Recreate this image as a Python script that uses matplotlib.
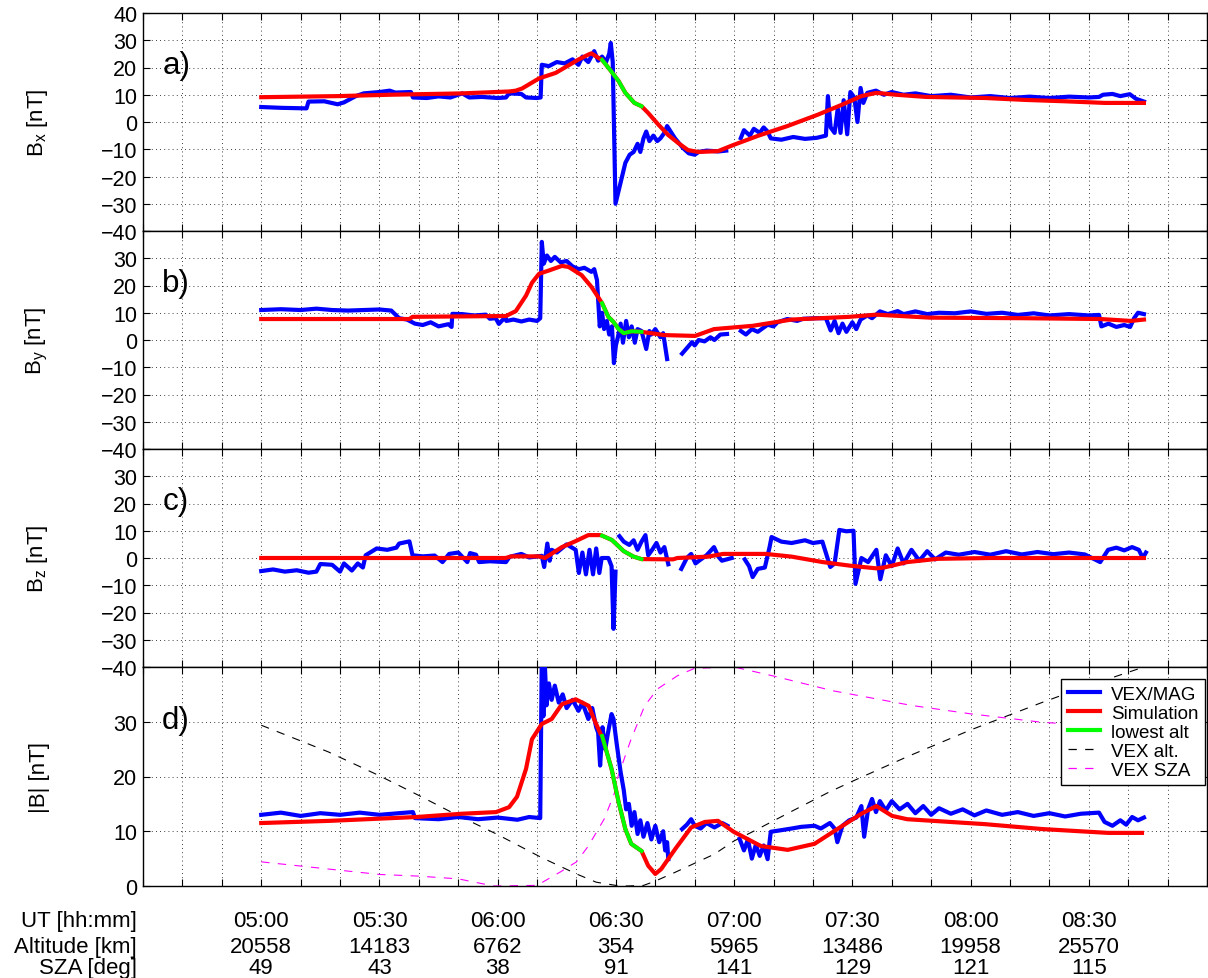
import numpy as np
import matplotlib
matplotlib.use('Agg')
import matplotlib.pyplot as plt
from matplotlib.lines import Line2D
from matplotlib.transforms import blended_transform_factory

plt.rcParams['font.family'] = ['Liberation Sans', 'DejaVu Sans']
plt.rcParams['mathtext.fontset'] = 'custom'
plt.rcParams['mathtext.rm'] = 'Liberation Sans'
plt.rcParams['mathtext.it'] = 'Liberation Sans:italic'
plt.rcParams['lines.scale_dashes'] = False

nan = np.nan

# time in minutes after 00:00 UT
# VEX/MAG measurements (t, nT)
bx_obs = [(300, 5.5), (305, 5.2), (311.5, 5.0), (312, 7.5), (316, 7.6), (319.4, 6.5), (321, 7.2),
          (324, 9.5), (326, 10.5), (330, 11), (332.6, 11.5), (334, 10.8), (338, 11), (338.5, 9),
          (342, 8.8), (345, 9.4), (348, 9), (351, 10.5), (352.8, 9), (356, 9.2), (360, 8.8),
          (362.1, 9), (362.9, 10.5), (366, 10.3), (367.2, 9), (370, 8.8), (370.9, 9), (371.2, 21),
          (373, 20.5), (375, 22), (377, 21.5), (379, 23), (380.5, 21), (381.5, 24), (383, 22),
          (384.5, 26), (385.5, 22.5), (386.5, 24), (387.5, 22), (388.3, 25), (388.7, 29),
          (389.2, 22), (389.9, -30), (390.9, -24), (392.4, -15), (393.5, -12), (394.5, -11),
          (395.5, -8), (396.2, -11), (397.0, -6), (397.7, -3.5), (398.5, -7), (399.5, -5),
          (400.5, -7), (401.3, -6), (402.3, -4), (403.0, -1.5), (405, -6), (407, -9.5),
          (408.5, -11.5), (410, -12), (411, -11), (413, -10.5), (416, -10.8), (418, -10.5),
          (418.4, nan), (421.7, -5.9), (422.5, -3), (424, -5), (425, -2.5), (426.5, -4),
          (427.5, -2), (428.5, -3.5), (429.3, -6), (432, -6.5), (435, -5.5), (438, -6.2),
          (441, -5.8), (443.3, -5), (443.8, 9.5), (444.5, -2), (445.5, -4), (446.3, 5), (447, -4),
          (447.8, 8), (448.7, -4.5), (449.5, 11), (450.5, 9), (451.3, 0), (452.1, 12.5),
          (452.8, 7), (453.8, 10.7), (456, 11.5), (458, 10), (460, 11), (463, 10), (466, 10.5),
          (470, 9.5), (475, 10), (480, 9), (485, 9.5), (490, 8.8), (495, 9.3), (500, 8.8),
          (505, 9.3), (510, 9), (512.6, 9.2), (513.6, 10), (516, 10.3), (518, 9.5), (520.4, 10.2),
          (522, 8.5), (523, 8), (524, 7.5)]

by_obs = [(300, 11), (305, 11.3), (310, 11), (314, 11.5), (318, 11), (322, 10.8), (326, 11),
          (330, 11.2), (333, 10.8), (335, 8), (337, 7.5), (339, 6), (341, 5.5), (343, 6.5),
          (345, 5), (347.5, 5.8), (348.3, 4.8), (348.5, 9.6), (351, 9.5), (354, 9), (357, 9.3),
          (358, 7.8), (359.5, 8), (360.3, 5.9), (362, 8.5), (362.2, 7), (364, 7.5), (366, 6.8),
          (368, 7.5), (370, 7), (370.8, 8), (371.2, 36), (371.7, 28), (372.5, 31), (373.5, 29),
          (374.5, 30.5), (376, 28.5), (377.5, 29), (379, 27), (380.6, 26), (382, 26.5),
          (383.8, 25), (384.5, 26), (385.2, 22), (385.9, 5), (386.5, 10), (387, 4), (387.7, 7),
          (388.3, 2), (389, 5), (389.5, -8.5), (390, -2), (390.5, 1), (391.2, 6), (391.8, -1),
          (392.6, 7), (393.3, 1), (394, 5), (394.8, -1), (395.5, 4), (396.5, 3.3), (397.7, -3.3),
          (398.5, 3.3), (399, 2), (400, 4), (401.3, 1), (402, 2.5), (403, -7), (403.3, nan),
          (406.8, -5), (408, -3), (409.3, -0.8), (410, -2), (411, 0), (412.5, -0.5), (414, 1),
          (415, 0), (416.5, 2), (418.2, 2.2), (418.4, nan), (421.7, 3.3), (423, 2), (424.5, 4),
          (426, 3), (428.5, 5.6), (430, 5), (431, 6.5), (433.5, 7.7), (436, 7), (437.5, 7.8),
          (441, 8), (443.3, 8), (444.5, 3.5), (445.5, 7), (446.5, 2.5), (447.5, 6), (448.5, 3),
          (450, 6.5), (451, 4), (452.1, 7.5), (453.8, 9), (455, 8), (457, 10.5), (459, 9.5),
          (461.5, 10.6), (463, 9.5), (466, 10.5), (469, 9.5), (472, 10), (476, 9.8), (480, 10.5),
          (484, 9.6), (488, 10), (492, 9.2), (496, 9.8), (500, 9), (505, 9.5), (510, 9),
          (512.6, 9.2), (513.2, 5), (515, 6), (517, 4.8), (519, 5.5), (520.5, 4.8), (521.5, 8),
          (522.5, 10), (524, 9.5)]

bz_obs = [(300, -4.8), (303, -4.2), (306, -5), (309, -4.5), (312, -5.4), (314, -5), (315, -2.2),
          (318, -2.5), (320, -5), (321, -2), (323, -4.6), (324.5, -2), (325.8, -3.5), (326.5, 1),
          (329.3, 3.5), (332, 3), (334.3, 3.8), (335, 5.3), (337.6, 6.1), (338.4, 1), (341, 0.6),
          (344, 0.9), (346, -1.5), (347.7, 1.5), (350, 2), (352.3, -1.5), (353, 1.8), (354.5, 1.2),
          (355.3, -1.5), (358, -1.2), (362.1, -1.5), (363, 0.4), (366, 1.5), (368, 0.2),
          (371.2, 0.8), (371.8, -3.3), (372.6, 5.3), (373.2, -1), (373.7, 3), (375, 2),
          (377.5, 5), (379.8, 3), (380.6, -5.5), (381.5, 2), (382.4, -6), (383.3, 3), (384.2, -6),
          (385, 3.5), (385.8, -5.5), (386.4, 0), (388.1, 0), (388.9, -3), (389.4, -26),
          (389.9, -5), (390.4, nan), (390.9, 8), (392, 6), (393.4, 4.8), (394.5, 6.5),
          (395.5, 3), (396.5, 6), (397.5, 8.4), (398.2, 1), (399.2, 3), (400.3, 5.5), (401.3, 2),
          (402.3, 4), (403.3, -2.3), (403.5, nan), (406.6, -4), (408, 0), (409.1, 1.5),
          (410.2, -2), (411.1, -1), (413, 1), (414.9, 4), (416, 0.5), (416.9, -1), (419.4, 0),
          (419.6, nan), (422.7, -0.5), (423.8, -3), (424.7, -7), (426, -4), (427.8, -3.5),
          (429, 4), (429.5, 7.7), (432, 6), (434.6, 5.5), (438, 6.5), (440, 5.5), (442.4, 6),
          (444.4, -3.3), (445.5, -2), (446.7, 10.3), (448.5, 9.8), (450.3, 10), (450.8, -9.5),
          (452.3, 0), (454, -1.5), (456.1, 3), (457.1, -7.8), (458.5, 1), (460, -3), (461.5, 3.5),
          (463, -2), (465, 3), (467, -1), (469, 2.5), (471, -0.5), (473.7, 2), (477, 1.2),
          (481, 2.2), (485, 1.2), (489, 2.5), (493, 1.3), (497, 2.2), (501, 1.4), (505, 2),
          (509, 1.3), (512.9, -1.5), (514.9, 3), (517, 3.8), (519, 2.8), (521, 4), (522.7, 3),
          (523.7, 0), (524.5, 2)]

bt_obs = [(300, 13), (305, 13.4), (310, 12.8), (315, 13.3), (320, 13), (325, 13.4), (330, 13),
          (335, 13.3), (338.5, 13.5), (339, 12.4), (345, 12.2), (350, 12.6), (355, 12.2),
          (360, 12.5), (365, 12.1), (368, 12.6), (370.8, 12.4), (371.2, 42), (371.6, 31),
          (372, 40), (372.4, 33), (373, 37), (373.7, 34), (374.5, 36.6), (375.5, 33.5),
          (376.5, 35), (377.5, 32.5), (379, 34), (380.5, 32), (381.5, 33.5), (383, 30.5),
          (384, 32.5), (385, 29), (385.5, 28), (386, 22), (386.6, 29), (387.3, 25), (388, 28),
          (388.9, 31.4), (389.4, 30.5), (390.2, 26), (391.2, 20.8), (392, 17.5), (392.6, 14),
          (393.3, 15), (394, 11), (394.7, 13.5), (395.5, 9.5), (396.2, 12), (397, 9),
          (398, 11.5), (399, 8.5), (400, 11), (401, 8), (402, 10), (402.5, 6.5), (403, 8),
          (403.3, 4.9), (403.5, nan), (406.8, 10.4), (408, 11.2), (409.1, 12.2), (410, 11),
          (411.5, 10.5), (413, 11.5), (415, 10.7), (417, 11.5), (418.3, 11), (418.5, nan),
          (421.4, 8.6), (422.5, 6.5), (423.5, 8.5), (424.5, 5), (425.5, 7.5), (426.5, 5.5),
          (427.5, 7.4), (428.5, 4.9), (429.3, 9.9), (432, 10.2), (434.6, 10.5), (437, 10.8),
          (440.4, 11), (442, 10.5), (444.3, 11.5), (445.5, 10.5), (446.2, 8), (447.5, 11),
          (449.2, 12), (451, 12.5), (452.3, 14.6), (453, 9), (454, 14), (455, 15.9), (456, 13.5),
          (457, 15.5), (458.5, 13.8), (460, 15.5), (462, 14), (464, 15), (466, 13.3), (468, 14.6),
          (470, 13), (472, 14.2), (475, 13.2), (478, 14), (481, 12.9), (484, 13.8), (488, 13),
          (492, 13.5), (496, 12.8), (500, 13.3), (504, 12.7), (508, 13.2), (512.6, 13.4),
          (514, 11.7), (516, 11), (518, 12), (519.5, 11.2), (521, 12.6), (522.5, 12), (524, 12.5)]

# Simulation (t, nT)
bx_sim = [(300, 9.1), (319.4, 9.5), (332.6, 10), (351, 10.5), (362.9, 11.2), (364.6, 11.5),
          (366.2, 12.3), (370.5, 16), (374.7, 18), (380.6, 23), (383.1, 24.8), (383.8, 25.2),
          (385.6, 23.5), (386.5, 22.8), (388.6, 19), (390.7, 15), (392.4, 10.7), (394.7, 7),
          (396.5, 5.8), (398.2, 3.3), (400.8, -1), (403.3, -4.8), (405.8, -7.7), (408.3, -10.3),
          (410.9, -11), (415.9, -10.7), (419.7, -8.5), (426, -5.1), (433.5, -1.5), (441.1, 2.6),
          (447.3, 6.3), (452.3, 9.5), (456.1, 10.7), (461.1, 10), (468.7, 9.2), (483.8, 8.8),
          (493.9, 8.1), (504, 7.6), (514.1, 7), (524, 7)]

by_sim = [(300, 7.7), (337.6, 7.7), (338.4, 8.5), (362.1, 8.8), (364.6, 10.6), (367.2, 16.3),
          (368.7, 21), (370.5, 24.3), (373, 25.5), (376.3, 27.2), (378, 26.8), (381.3, 23.8),
          (383.8, 19.5), (386.5, 13.5), (388.1, 8.5), (389.4, 6.6), (390.7, 4), (392, 2.5),
          (394, 3.2), (396.5, 3.0), (402.3, 1.8), (410.1, 1.5), (414.9, 4), (424.7, 5.2),
          (434.6, 7.5), (449.2, 8.5), (456.1, 9.3), (469.7, 8.2), (493.2, 8), (512.9, 7.7),
          (520.7, 7), (524, 7.5)]

bz_sim = [(300, 0), (362, 0), (363.5, 0.6), (370.5, 0.6), (372, 0), (376.3, 4), (379.8, 6.2),
          (383, 8.4), (386, 8.4), (386.5, 8.2), (389, 6.6), (392, 2.5), (394.5, 0.5),
          (396.5, -0.4), (404.5, -0.5), (405.6, 0), (413.4, 0.5), (417.2, 1.5), (428, 1.5),
          (434.6, 0.5), (442.5, -1.5), (449.3, -2.8), (456.1, -3.8), (458, -3.5), (463.9, -1.5),
          (471.7, -0.3), (485, 0), (524, 0)]

bt_sim = [(300, 11.5), (317.4, 11.9), (339.4, 12.6), (351, 13.2), (359.6, 13.5), (362.9, 14.4),
          (364.9, 16.3), (367.2, 21.4), (368.7, 26.8), (371.2, 29.6), (373.7, 30.5),
          (376.3, 33.2), (379.8, 34.1), (383.1, 32.9), (384.8, 29.9), (386.1, 27.8),
          (386.5, 27.4), (388.9, 21.4), (390.7, 15.3), (392.4, 10.4), (393.9, 7.7), (396.5, 6.4),
          (398.2, 3.7), (400, 2.2), (401.5, 3.1), (405.1, 6.8), (409.1, 10.7), (412.6, 11.7),
          (415.9, 11.9), (419.9, 9.9), (426.8, 7.3), (433.6, 6.6), (440.4, 7.7), (446.2, 10.4),
          (452.3, 13.2), (456.1, 14.6), (460.1, 12.8), (463.9, 12.2), (483.6, 11.3),
          (498.2, 10.4), (514.9, 9.7), (523.5, 9.7)]

lowest_alt_window = (386.5, 396.5)

# spacecraft altitude [km] and solar zenith angle [deg]
alt_t = [300, 317, 330, 340, 349, 360, 371, 380, 385, 390, 393, 397, 400, 405, 415, 420, 425,
         435, 444, 450, 464, 480, 498, 510, 524]
alt_km = [20558, 17200, 14183, 11700, 9400, 6762, 3900, 1800, 760, 354, 280, 350, 900, 2000,
          4300, 5965, 7200, 9800, 12100, 13486, 16600, 19958, 23400, 25570, 27900]
sza_t = [300, 317, 330, 340, 350, 359, 370, 376, 380, 383, 387, 389.7, 390.5, 393.7, 397.3,
         400.6, 405.6, 410, 420, 430, 445, 465, 480, 498, 510, 524]
sza_deg = [49, 45.6, 43, 42.2, 40.9, 37.5, 37.8, 44.3, 49, 56.5, 69.3, 82, 89.4, 106.6, 123.3,
           131.4, 137.6, 141.2, 141.8, 137.5, 130.5, 123.5, 119.5, 115.5, 114, 112]

# bottom table
table_t = [300, 330, 360, 390, 420, 450, 480, 510]
ut_labels = ['05:00', '05:30', '06:00', '06:30', '07:00', '07:30', '08:00', '08:30']
alt_labels = ['20558', '14183', '6762', '354', '5965', '13486', '19958', '25570']
sza_labels = ['49', '43', '38', '91', '141', '129', '121', '115']

panels = [('a)', r'$\mathregular{B_x}$ [nT]', bx_obs, bx_sim, (-40, 40)),
          ('b)', r'$\mathregular{B_y}$ [nT]', by_obs, by_sim, (-40, 40)),
          ('c)', r'$\mathregular{B_z}$ [nT]', bz_obs, bz_sim, (-40, 40)),
          ('d)', '|B| [nT]', bt_obs, bt_sim, (0, 40))]

W, H = 1208, 979
fig = plt.figure(figsize=(W / 100, H / 100), dpi=100)
x0, x1 = 143, 1207
tops = [14, 232, 450, 668]
bots = [232, 450, 668, 887]

blue, red, green = (0, 0, 1), (1, 0, 0), (0, 1, 0)


def minus(v):
    return str(v).replace('-', '\u2212')


axes = []
for i, (tag, ylab, obs, sim, ylim) in enumerate(panels):
    ax = fig.add_axes([x0 / W, 1 - bots[i] / H, (x1 - x0) / W, (bots[i] - tops[i]) / H])
    axes.append(ax)
    ot, ov = np.array(obs).T
    st, sv = np.array(sim).T
    ax.plot(ot, ov, color=blue, lw=3.0, zorder=3, solid_joinstyle='round')
    ax.plot(st, sv, color=red, lw=3.0, zorder=4)
    m = (st >= lowest_alt_window[0]) & (st <= lowest_alt_window[1])
    ax.plot(st[m], sv[m], color=green, lw=2.8, zorder=5)

    ax.set_xlim(270, 538.6)
    ax.set_ylim(*ylim)
    ax.set_xticks(np.arange(270, 541, 10))
    yt = np.arange(ylim[0], ylim[1] + 1, 10)
    ylabels = [minus(v) for v in yt]
    if i > 0:
        ylabels[-1] = ''
    ax.set_yticks(yt, ylabels)
    ax.tick_params(direction='in', length=5, width=0.8, top=True, right=True,
                   labelbottom=False, labelsize=15.5, pad=4, colors='k')
    ax.grid(True, color='k', linestyle=(0, (0.6, 2.4)), linewidth=0.6)
    ax.set_axisbelow(True)
    for sp in ax.spines.values():
        sp.set_linewidth(1.0)
    ax.set_ylabel(ylab, fontsize=16)
    ax.yaxis.set_label_coords(-0.087, 0.5)
    ax.text(0.018, 0.76, tag, transform=ax.transAxes, fontsize=22.5, va='center', ha='left')

# orbit context in panel d, scaled to 0..40
axd = axes[3]
alt_arr = np.array(alt_km, dtype=float)
sza_arr = np.array(sza_deg, dtype=float)
alt_s = (alt_arr - alt_arr.min()) / (alt_arr.max() - alt_arr.min()) * 40
sza_s = (sza_arr - sza_arr.min()) / (sza_arr.max() - sza_arr.min()) * 40
axd.plot(alt_t, alt_s, color='k', lw=0.8, dashes=(6, 6), zorder=2)
axd.plot(sza_t, sza_s, color=(1, 0, 1), lw=0.8, dashes=(6, 6), zorder=2)

handles = [Line2D([], [], color=blue, lw=3),
           Line2D([], [], color=red, lw=3),
           Line2D([], [], color=green, lw=3),
           Line2D([], [], color='k', lw=0.9, dashes=(6, 6)),
           Line2D([], [], color=(1, 0, 1), lw=0.9, dashes=(6, 6))]
labels = ['VEX/MAG', 'Simulation', 'lowest alt', 'VEX alt.', 'VEX SZA']
leg = axd.legend(handles, labels, loc='upper right',
                 bbox_to_anchor=(1 - 2 / (x1 - x0), (887 - 680) / 219),
                 fontsize=13.5, frameon=True, fancybox=False, edgecolor='k', framealpha=1,
                 borderpad=0.35, labelspacing=0.1, handlelength=1.7, handletextpad=0.6,
                 borderaxespad=0)
leg.get_frame().set_linewidth(1.0)

# table below the x axis
trans = blended_transform_factory(axd.transData, axd.transAxes)
rows = [('UT [hh:mm]', ut_labels, -0.181),
        ('Altitude [km]', alt_labels, -0.303),
        ('SZA [deg]', sza_labels, -0.397)]
for name, vals, yy in rows:
    axd.text(-0.0056, yy, name, transform=axd.transAxes, ha='right', va='baseline', fontsize=16)
    for t, v in zip(table_t, vals):
        axd.text(t, yy, v, transform=trans, ha='center', va='baseline', fontsize=16)

fig.savefig('out.png', dpi=100)
